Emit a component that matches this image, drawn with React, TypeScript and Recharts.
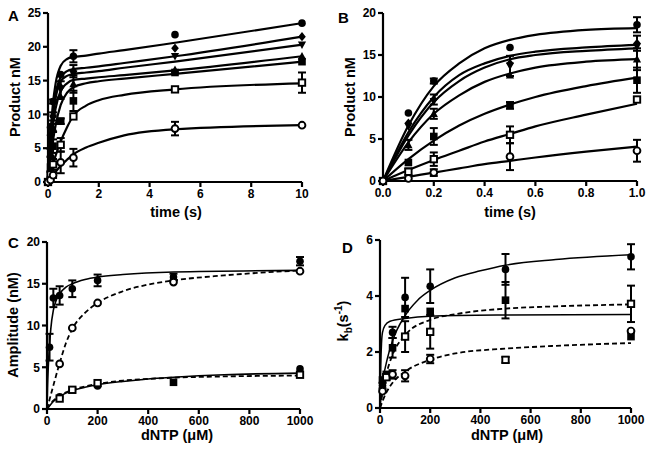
import React from "react";
import { ComposedChart, Line, Scatter, XAxis, YAxis, ErrorBar } from "recharts";

// ---- Panels A & B: product vs time (B shows the first second of A) ----
const timeA = [0, 0.1, 0.2, 0.5, 1, 5, 10];
const ptCircle = [0, 8.1, 11.9, 15.9, 18.6, 21.8, 23.5];
const ptDiamond = [0, 6.9, 9.7, 14.0, 16.4, 19.8, 21.5];
const ptDownTri = [0, 6.5, 9.5, 13.7, 16.0, 18.6, 20.3];
const ptTri = [0, 4.3, 8.0, 12.6, 14.5, 16.6, 18.6];
const ptSquare = [0, 2.2, 5.3, 9.0, 12.0, 16.2, 17.8];
const ptOpenSquare = [0, 1.1, 2.6, 5.5, 9.7, 13.7, 14.7];
const ptOpenCircle = [0, 0.3, 1.0, 2.9, 3.6, 7.9, 8.4];

const errCircle = [0, 0, 0.3, 0, 0.9, 0, 0];
const errDiamond = [0, 0, 0.6, 0, 0.9, 0, 0];
const errDownTri = [0, 0, 0, 1.2, 0, 0, 0];
const errTri = [0, 0.6, 0.6, 0, 1.3, 0, 0];
const errSquare = [0, 0, 1.0, 0.4, 1.5, 0, 0];
const errOpenSquare = [0, 0.4, 0.8, 1.0, 0, 0, 1.5];
const errOpenCircle = [0, 0, 0.4, 1.6, 1.3, 1.0, 0];

const fitTimeA = [0, 0.1, 0.2, 0.3, 0.5, 0.75, 1, 1.5, 2, 3, 5, 10];
const fitA = [
  [0, 7.0, 11.8, 14.6, 17.2, 18.2, 18.5, 18.7, 19.0, 19.5, 20.6, 23.5],
  [0, 6.2, 10.5, 13.1, 15.5, 16.4, 16.7, 16.9, 17.1, 17.6, 18.6, 21.5],
  [0, 5.8, 9.9, 12.4, 14.9, 15.7, 16.0, 16.2, 16.4, 16.9, 17.8, 20.3],
  [0, 5.0, 8.6, 10.9, 13.5, 14.6, 15.1, 15.3, 15.5, 15.8, 16.5, 18.6],
  [0, 3.4, 6.2, 8.4, 11.4, 13.2, 14.0, 14.6, 14.9, 15.3, 16.0, 17.8],
  [0, 1.4, 2.7, 3.9, 6.0, 8.1, 9.8, 11.3, 12.1, 12.9, 13.7, 14.6],
  [0, 0.5, 1.0, 1.5, 2.4, 3.3, 4.1, 5.1, 5.8, 6.9, 7.8, 8.4],
];

const fitTimeB = [0, 0.1, 0.2, 0.3, 0.4, 0.5, 0.6, 0.8, 1.0];
const fitB = [
  [0, 6.6, 11.3, 14.0, 15.8, 16.8, 17.4, 18.0, 18.2],
  [0, 5.8, 10.0, 12.6, 14.0, 14.9, 15.4, 15.9, 16.2],
  [0, 5.4, 9.4, 11.9, 13.5, 14.5, 15.0, 15.5, 15.8],
  [0, 4.6, 8.0, 10.2, 11.8, 12.8, 13.5, 14.2, 14.5],
  [0, 2.6, 4.8, 6.6, 8.0, 9.1, 10.0, 11.3, 12.3],
  [0, 1.3, 2.5, 3.6, 4.7, 5.6, 6.5, 7.9, 9.2],
  [0, 0.5, 1.0, 1.5, 2.0, 2.4, 2.8, 3.5, 4.1],
];

// ---- Panel C: amplitude vs dNTP ----
const cHiDntp = [10, 25, 50, 100, 200, 500, 1000];
const cHiFilled = [7.4, 13.3, 13.6, 14.4, 15.4, 15.8, 17.7];
const cHiFilledErr = [1.6, 1.1, 1.1, 1.0, 0.7, 0.4, 0.5];
const cHiOpenDntp = [50, 100, 200, 500, 1000];
const cHiOpen = [5.4, 9.7, 12.7, 15.2, 16.5];
const cLoFilledDntp = [50, 200, 1000];
const cLoFilled = [1.45, 2.75, 4.8];
const cLoSquareDntp = [100, 500];
const cLoSquare = [2.3, 3.2];
const cLoOpenDntp = [50, 100, 200, 1000];
const cLoOpen = [1.25, 2.3, 3.1, 4.1];

const cFitHiDntp = [0, 2, 5, 10, 15, 25, 35, 50, 75, 100, 150, 200, 300, 500, 1000];
const cFitHi = [0, 2.5, 5.0, 7.6, 9.6, 11.8, 12.9, 13.8, 14.6, 15.0, 15.5, 15.8, 16.1, 16.4, 16.6];
const cFitDntp = [0, 25, 50, 75, 100, 150, 200, 300, 400, 500, 700, 1000];
const cFitHiDash = [0, 2.8, 5.5, 7.9, 9.6, 11.5, 12.7, 14.1, 14.9, 15.4, 16.0, 16.6];
const cFitLo = [0, 0.9, 1.5, 1.9, 2.2, 2.6, 2.9, 3.3, 3.6, 3.8, 4.1, 4.3];
const cFitLoDash = [0, 1.0, 1.6, 2.0, 2.3, 2.7, 3.0, 3.4, 3.6, 3.75, 3.9, 4.0];

// ---- Panel D: kb vs dNTP ----
const dDntp = [10, 25, 50, 100, 200, 500, 1000];
const dFilledCircle = [0.8, 1.1, 2.7, 3.95, 4.35, 4.95, 5.4];
const dFilledCircleErr = [0.1, 0.1, 0.2, 0.7, 0.6, 0.55, 0.45];
const dFilledSquare = [1.0, 1.2, 2.15, 3.55, 3.45, 3.85, 2.55];
const dFilledSquareErr = [0, 0, 0.35, 0, 0, 0.65, 0];
const dOpenSquareDntp = [25, 100, 200, 500, 1000];
const dOpenSquare = [1.1, 2.55, 2.72, 1.72, 3.72];
const dOpenSquareErr = [0.1, 0.55, 0.6, 0.1, 0.65];
const dOpenCircleDntp = [10, 50, 100, 200, 1000];
const dOpenCircle = [0.6, 1.2, 1.15, 1.75, 2.75];
const dOpenCircleErr = [0, 0.15, 0.2, 0.15, 0];

const dFitDntp = [0, 10, 25, 50, 100, 150, 200, 300, 400, 500, 700, 1000];
const dFitCircle = [0, 0.9, 1.6, 2.4, 3.3, 3.85, 4.2, 4.65, 4.9, 5.1, 5.3, 5.47];
const dFitFlatDntp = [0, 3, 6, 10, 20, 40, 100, 200, 500, 1000];
const dFitFlat = [0, 1.5, 2.3, 2.7, 2.95, 3.1, 3.2, 3.28, 3.32, 3.34];
const dFitDashDntp = [0, 25, 50, 100, 200, 300, 500, 700, 1000];
const dFitOpenSquare = [0, 1.2, 1.9, 2.6, 3.15, 3.35, 3.55, 3.63, 3.7];
const dFitOpenCircle = [0, 0.55, 0.9, 1.3, 1.72, 1.95, 2.12, 2.22, 2.32];

const FONT = '"Liberation Sans", Arial, sans-serif';

const rows = (x: number[], y: number[], e?: number[]) =>
  x.map((v, i) => ({ x: v, y: y[i], e: e ? e[i] : 0 }));

function Marker({ kind, cx, cy }: { kind: string; cx: number; cy: number }) {
  const s = 3.8;
  switch (kind) {
    case "circle":
      return <circle cx={cx} cy={cy} r={s} fill="#000" />;
    case "ocircle":
      return <circle cx={cx} cy={cy} r={s - 0.4} fill="#fff" stroke="#000" strokeWidth={1.9} />;
    case "square":
      return <rect x={cx - s} y={cy - s} width={2 * s} height={2 * s} fill="#000" />;
    case "osquare":
      return <rect x={cx - s + 0.6} y={cy - s + 0.6} width={2 * s - 1.2} height={2 * s - 1.2} fill="#fff" stroke="#000" strokeWidth={1.9} />;
    case "diamond":
      return <polygon points={`${cx},${cy - s - 0.8} ${cx + s},${cy} ${cx},${cy + s + 0.8} ${cx - s},${cy}`} fill="#000" />;
    case "tri":
      return <polygon points={`${cx},${cy - s - 0.5} ${cx + s + 0.3},${cy + s - 0.5} ${cx - s - 0.3},${cy + s - 0.5}`} fill="#000" />;
    default:
      return <polygon points={`${cx},${cy + s + 0.5} ${cx + s + 0.3},${cy - s + 0.5} ${cx - s - 0.3},${cy - s + 0.5}`} fill="#000" />;
  }
}

type FitDef = { x: number[]; y: number[]; dash?: boolean; w?: number };
type PtsDef = { x: number[]; y: number[]; e?: number[]; kind: string };

type PanelProps = {
  left: number;
  top: number;
  width: number;
  height: number;
  margin: { top: number; right: number; bottom: number; left: number };
  xDomain: [number, number];
  xTicks: number[];
  yDomain: [number, number];
  yTicks: number[];
  xFmt?: (v: number) => string;
  fits: FitDef[];
  points: PtsDef[];
};

function Panel(p: PanelProps) {
  const axisStyle = { stroke: "#000", strokeWidth: 2.2 };
  const tick = { fill: "#000", fontSize: 12, fontWeight: 700, fontFamily: FONT };
  return (
    <div style={{ position: "absolute", left: p.left, top: p.top }}>
      <ComposedChart width={p.width} height={p.height} margin={p.margin}>
        <XAxis
          dataKey="x"
          type="number"
          domain={p.xDomain}
          ticks={p.xTicks}
          tickFormatter={p.xFmt}
          axisLine={axisStyle}
          tickLine={axisStyle}
          tickSize={5}
          tickMargin={2}
          tick={tick}
          height={30}
        />
        <YAxis
          dataKey="y"
          type="number"
          domain={p.yDomain}
          ticks={p.yTicks}
          axisLine={axisStyle}
          tickLine={axisStyle}
          tickSize={5}
          tickMargin={2}
          tick={tick}
          width={40}
        />
        {p.fits.map((f, i) => (
          <Line
            key={"f" + i}
            data={rows(f.x, f.y)}
            dataKey="y"
            type="monotone"
            stroke="#000"
            strokeWidth={f.w ?? 2.2}
            strokeDasharray={f.dash ? "5 3" : undefined}
            dot={false}
            activeDot={false}
            isAnimationActive={false}
          />
        ))}
        {p.points.map((s, i) => (
          <Scatter
            key={"s" + i}
            data={rows(s.x, s.y, s.e)}
            dataKey="y"
            shape={(q: any) => <Marker kind={s.kind} cx={q.cx} cy={q.cy} />}
            isAnimationActive={false}
          >
            {s.e && <ErrorBar dataKey="e" direction="y" width={4} strokeWidth={2} stroke="#000" />}
          </Scatter>
        ))}
      </ComposedChart>
    </div>
  );
}

const early = (a: number[]) => a.slice(0, 5);

const kindsAB = ["circle", "diamond", "dtri", "tri", "square", "osquare", "ocircle"];
const ptsAB = [ptCircle, ptDiamond, ptDownTri, ptTri, ptSquare, ptOpenSquare, ptOpenCircle];
const errAB = [errCircle, errDiamond, errDownTri, errTri, errSquare, errOpenSquare, errOpenCircle];

const label: React.CSSProperties = {
  position: "absolute",
  fontFamily: FONT,
  fontWeight: 700,
  lineHeight: 1,
  whiteSpace: "nowrap",
  color: "#000",
};

function XTitle({ x, y, children }: { x: number; y: number; children: React.ReactNode }) {
  return <div style={{ ...label, left: x, top: y, fontSize: 14.5, transform: "translateX(-50%)" }}>{children}</div>;
}

function YTitle({ x, y, children }: { x: number; y: number; children: React.ReactNode }) {
  return (
    <div style={{ ...label, left: x, top: y, fontSize: 14.5, transform: "translate(-50%, -50%) rotate(-90deg)" }}>
      {children}
    </div>
  );
}

function Letter({ x, y, t }: { x: number; y: number; t: string }) {
  return <div style={{ ...label, left: x, top: y, fontSize: 15 }}>{t}</div>;
}

export default function App() {
  return (
    <div style={{ position: "absolute", left: 0, top: 0, width: 654, height: 460, background: "#fff", overflow: "hidden" }}>
      <Panel
        left={0}
        top={0}
        width={320}
        height={230}
        margin={{ top: 13, right: 18, bottom: 18, left: 8 }}
        xDomain={[0, 10]}
        xTicks={[0, 2, 4, 6, 8, 10]}
        yDomain={[0, 25]}
        yTicks={[0, 5, 10, 15, 20, 25]}
        fits={fitA.map((y) => ({ x: fitTimeA, y }))}
        points={ptsAB.map((y, i) => ({ x: timeA, y, e: errAB[i], kind: kindsAB[i] }))}
      />
      <Panel
        left={327}
        top={0}
        width={327}
        height={230}
        margin={{ top: 13, right: 17, bottom: 19, left: 16 }}
        xDomain={[0, 1]}
        xTicks={[0, 0.2, 0.4, 0.6, 0.8, 1]}
        xFmt={(v) => v.toFixed(1)}
        yDomain={[0, 20]}
        yTicks={[0, 5, 10, 15, 20]}
        fits={fitB.map((y) => ({ x: fitTimeB, y }))}
        points={ptsAB.map((y, i) => ({ x: early(timeA), y: early(y), e: early(errAB[i]), kind: kindsAB[i] }))}
      />
      <Panel
        left={0}
        top={230}
        width={320}
        height={230}
        margin={{ top: 12, right: 20, bottom: 21, left: 7 }}
        xDomain={[0, 1000]}
        xTicks={[0, 200, 400, 600, 800, 1000]}
        yDomain={[0, 20]}
        yTicks={[0, 5, 10, 15, 20]}
        fits={[
          { x: cFitHiDntp, y: cFitHi, w: 1.6 },
          { x: cFitDntp, y: cFitHiDash, dash: true, w: 1.8 },
          { x: cFitDntp, y: cFitLo, w: 1.6 },
          { x: cFitDntp, y: cFitLoDash, dash: true, w: 1.8 },
        ]}
        points={[
          { x: cHiDntp, y: cHiFilled, e: cHiFilledErr, kind: "circle" },
          { x: cHiOpenDntp, y: cHiOpen, kind: "ocircle" },
          { x: cLoSquareDntp, y: cLoSquare, kind: "square" },
          { x: cLoFilledDntp, y: cLoFilled, kind: "circle" },
          { x: cLoOpenDntp, y: cLoOpen, kind: "osquare" },
        ]}
      />
      <Panel
        left={327}
        top={230}
        width={327}
        height={230}
        margin={{ top: 10, right: 23, bottom: 22, left: 13 }}
        xDomain={[0, 1000]}
        xTicks={[0, 200, 400, 600, 800, 1000]}
        yDomain={[0, 6]}
        yTicks={[0, 2, 4, 6]}
        fits={[
          { x: dFitDntp, y: dFitCircle, w: 1.5 },
          { x: dFitFlatDntp, y: dFitFlat, w: 1.5 },
          { x: dFitDashDntp, y: dFitOpenSquare, dash: true, w: 1.8 },
          { x: dFitDashDntp, y: dFitOpenCircle, dash: true, w: 1.8 },
        ]}
        points={[
          { x: dDntp, y: dFilledSquare, e: dFilledSquareErr, kind: "square" },
          { x: dDntp, y: dFilledCircle, e: dFilledCircleErr, kind: "circle" },
          { x: dOpenSquareDntp, y: dOpenSquare, e: dOpenSquareErr, kind: "osquare" },
          { x: dOpenCircleDntp, y: dOpenCircle, e: dOpenCircleErr, kind: "ocircle" },
        ]}
      />

      <Letter x={8} y={8} t="A" />
      <Letter x={338} y={10} t="B" />
      <Letter x={8} y={235} t="C" />
      <Letter x={342} y={240} t="D" />

      <XTitle x={176} y={205}>time (s)</XTitle>
      <XTitle x={510} y={205}>time (s)</XTitle>
      <XTitle x={177} y={428}>dNTP (μM)</XTitle>
      <XTitle x={507} y={428}>dNTP (μM)</XTitle>

      <YTitle x={15} y={97}>Product nM</YTitle>
      <YTitle x={350} y={97}>Product nM</YTitle>
      <YTitle x={13} y={325}>Amplitude (nM)</YTitle>
      <YTitle x={344} y={321}>
        k<sub style={{ fontSize: 10 }}>b</sub>(s<sup style={{ fontSize: 10 }}>-1</sup>)
      </YTitle>
    </div>
  );
}
